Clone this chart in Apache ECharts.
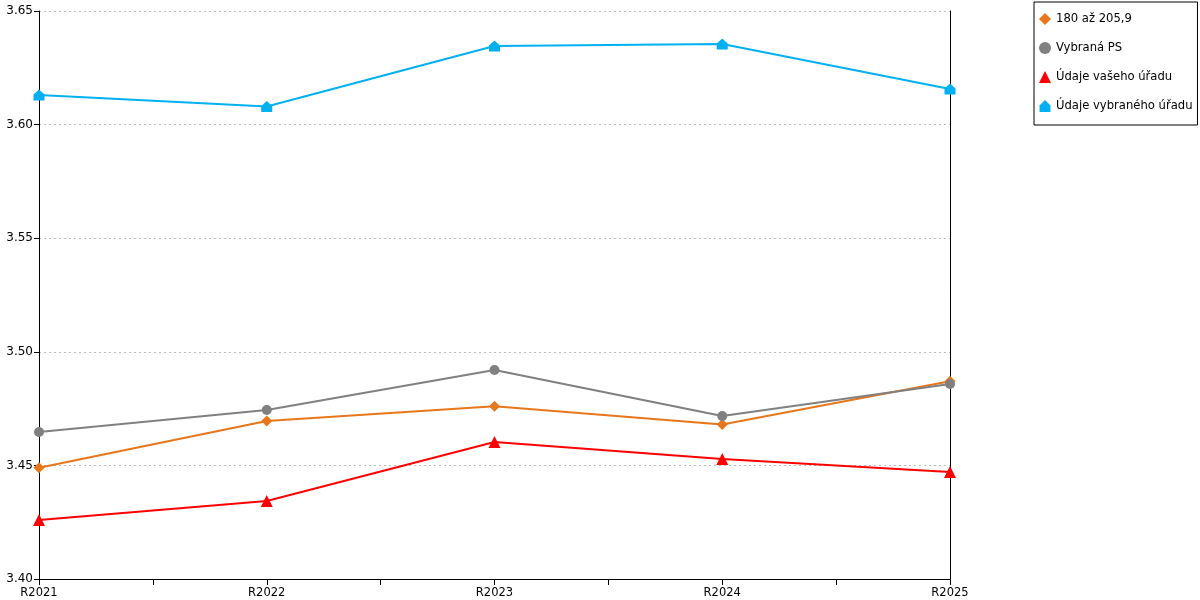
<!DOCTYPE html>
<html>
<head>
  <meta charset="utf-8">
  <title>Line chart</title>
  <script src="https://cdn.jsdelivr.net/npm/echarts@6/dist/echarts.min.js"></script>
  <style>
    html, body { margin: 0; padding: 0; background: #fff; }
    #graph { width: 1200px; height: 600px; }
  </style>
</head>
<body>
  <div id="graph"></div>

  <script>
    // data
    var categories = ['R2021', 'R2022', 'R2023', 'R2024', 'R2025'];
    var skupina = [3.449, 3.4695, 3.476, 3.468, 3.487];
    var vybranaPS = [3.4647, 3.4744, 3.492, 3.4717, 3.4858];
    var vasUrad = [3.426, 3.4343, 3.4603, 3.4528, 3.4471];
    var vybranyUrad = [3.613, 3.608, 3.6346, 3.6355, 3.6157];

    var font = 'DejaVu Sans';
    var house = 'path://M5,0 L10,5 L10,11 L0,11 L0,5 Z';

    function pairs(arr) {
      return arr.map(function (v, i) { return [i, v]; });
    }

    function line(name, data, color, symbol, size) {
      return {
        name: name,
        type: 'line',
        data: pairs(data),
        symbol: symbol,
        symbolSize: size,
        showSymbol: true,
        lineStyle: { color: color, width: 2 },
        itemStyle: { color: color },
        emphasis: { disabled: true },
        animation: false
      };
    }

    var myChart = echarts.init(document.getElementById('graph'));

    var option = {
      backgroundColor: '#fff',
      textStyle: { fontFamily: font },
      grid: { left: 39, right: 250, top: 11, bottom: 21, containLabel: false },
      legend: {
        orient: 'vertical',
        left: 1034,
        top: 2,
        padding: [11, 5, 13, 5],
        itemGap: 17,
        itemWidth: 12,
        itemHeight: 12,
        borderColor: '#000',
        borderWidth: 1,
        textStyle: { fontFamily: font, fontSize: 11.6, color: '#000' },
        data: [
          { name: '180 až 205,9', icon: 'diamond' },
          { name: 'Vybraná PS', icon: 'circle' },
          { name: 'Údaje vašeho úřadu', icon: 'triangle' },
          { name: 'Údaje vybraného úřadu', icon: house }
        ]
      },
      xAxis: {
        type: 'value',
        min: 0,
        max: categories.length - 1,
        interval: 0.5,
        axisLine: { show: true, lineStyle: { color: '#000', width: 1 } },
        axisTick: { show: true, length: 6, lineStyle: { color: '#000' } },
        splitLine: { show: false },
        axisLabel: {
          color: '#000',
          fontFamily: font,
          fontSize: 11.5,
          margin: 8,
          formatter: function (v) {
            return Number.isInteger(v) ? categories[v] : '';
          }
        }
      },
      yAxis: [{
        type: 'value',
        min: 3.40,
        max: 3.65,
        interval: 0.05,
        axisLine: { show: true, lineStyle: { color: '#000', width: 1 } },
        axisTick: { show: true, length: 5, lineStyle: { color: '#000' } },
        splitLine: { show: true, lineStyle: { color: '#bdbdbd', type: [2, 3] } },
        axisLabel: {
          color: '#000',
          fontFamily: font,
          fontSize: 12,
          margin: 6,
          formatter: function (v) { return v.toFixed(2); }
        }
      }, {
        type: 'value',
        position: 'right',
        min: 3.40,
        max: 3.65,
        interval: 0.05,
        axisLine: { show: true, lineStyle: { color: '#000', width: 1 } },
        axisTick: { show: false },
        axisLabel: { show: false },
        splitLine: { show: false }
      }],
      series: [
        line('180 až 205,9', skupina, '#e8761a', 'diamond', 11),
        line('Vybraná PS', vybranaPS, '#808080', 'circle', 10),
        line('Údaje vašeho úřadu', vasUrad, '#ff0000', 'triangle', 12),
        line('Údaje vybraného úřadu', vybranyUrad, '#00b0f0', house, 11)
      ]
    };

    myChart.setOption(option);
  </script>
</body>
</html>
